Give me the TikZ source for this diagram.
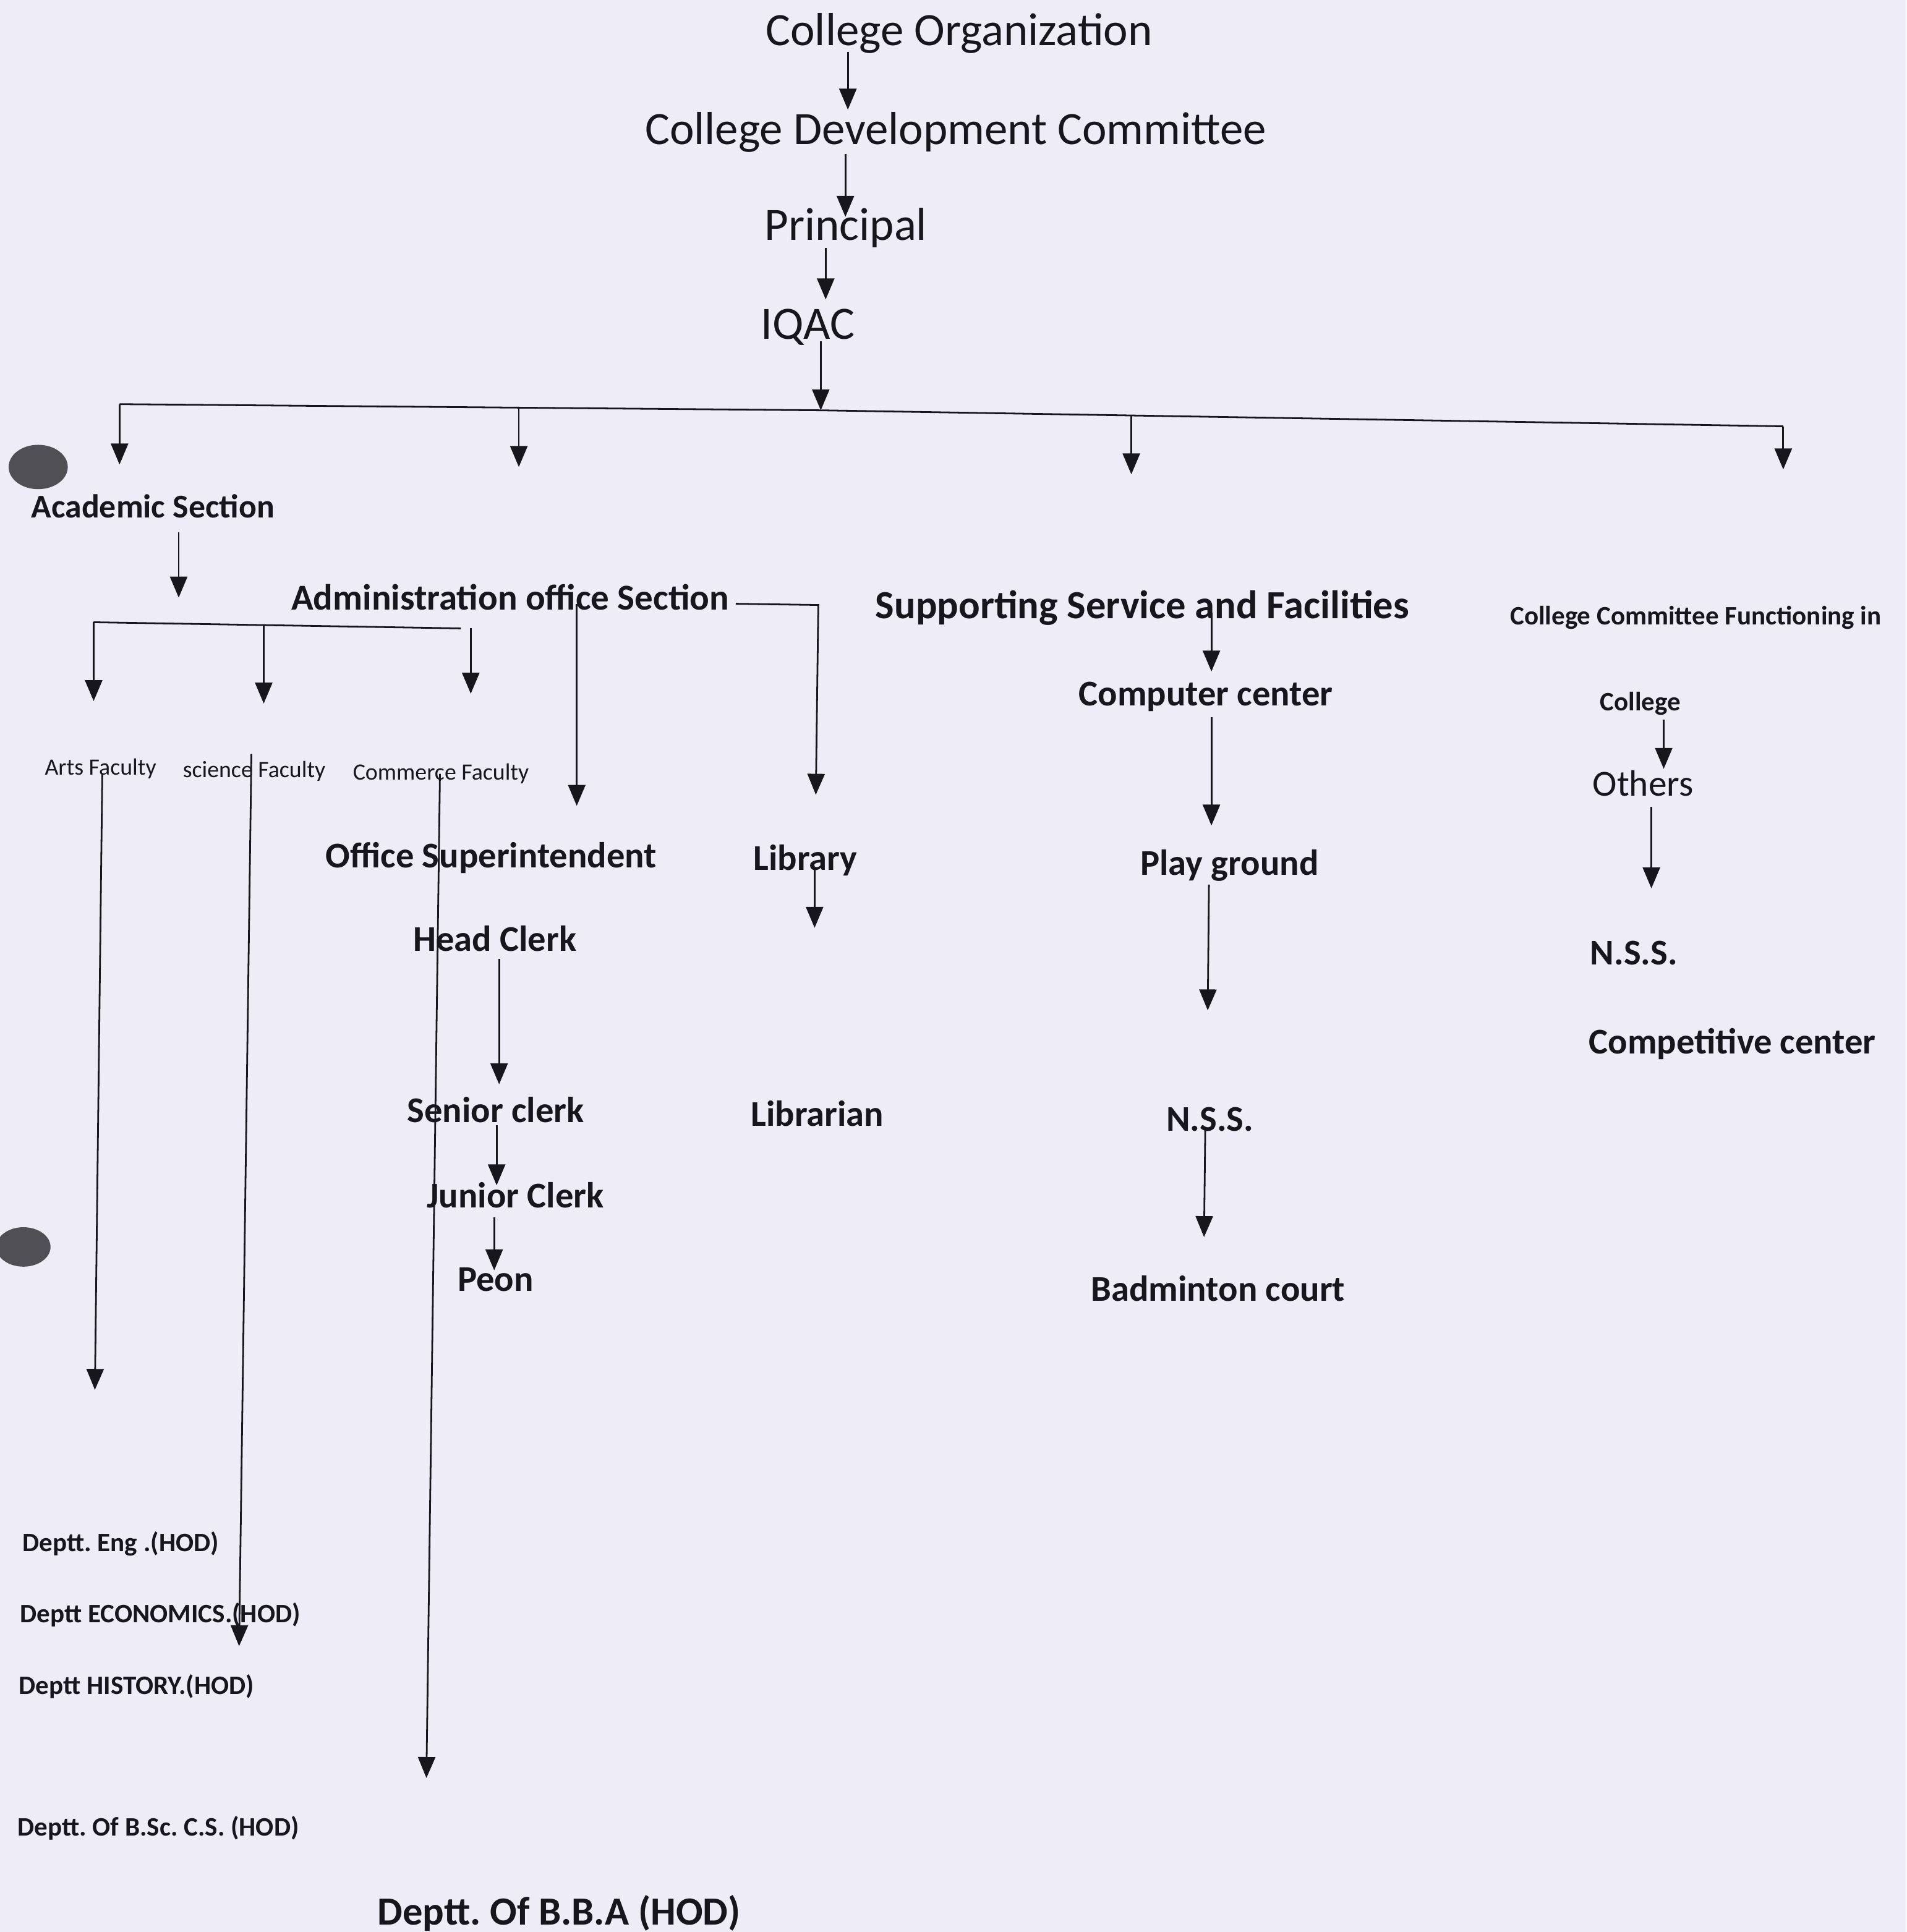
\documentclass[tikz,border=0pt]{standalone}
\usepackage{fontspec}
\setmainfont{Carlito}
\usetikzlibrary{arrows.meta}
\definecolor{paper}{RGB}{238,237,247}
\definecolor{ink}{RGB}{22,22,28}
\definecolor{holec}{RGB}{80,80,84}
\frenchspacing
\begin{document}
\begin{tikzpicture}[x=0.5pt,y=-0.5pt,
  lbl/.style={anchor=base west,inner sep=0pt,text=ink},
  big/.style={lbl,font=\fontsize{18.8}{22}\selectfont},
  bl/.style={lbl,font=\fontsize{14.7}{17}\selectfont\bfseries},
  acadf/.style={lbl,font=\fontsize{13.5}{16}\selectfont\bfseries},
  adminf/.style={lbl,font=\fontsize{14.8}{17}\selectfont\bfseries},
  suppf/.style={lbl,font=\fontsize{16.2}{19}\selectfont\bfseries},
  regm/.style={lbl,font=\fontsize{14.9}{17}\selectfont},
  sm/.style={lbl,font=\fontsize{10.8}{13}\selectfont\bfseries},
  fac/.style={lbl,font=\fontsize{9.5}{11}\selectfont},
  ln/.style={draw=ink,line width=0.7pt},
  arr/.style={ln,-{Triangle[width=7pt,length=8.5pt]}}]
\fill[paper] (0,0) rectangle (1547,1568);
\useasboundingbox (0,0) rectangle (1547,1568);
% punch holes
\fill[holec] (31,379) ellipse [x radius=12pt, y radius=9pt];
\fill[holec] (19,1012) ellipse [x radius=11pt, y radius=8pt];
% labels
\node[big] (corg) at (621,37) {College Organization};
\node[big] (cdc) at (523,117) {College Development Committee};
\node[big] (prin) at (620,195) {Principal};
\node[big] (iqac) at (617,275) {IQAC};
\node[acadf] (acad) at (25,420) {Academic Section};
\node[adminf] (admin) at (236,495) {Administration office Section};
\node[suppf] (supp) at (710,502) {Supporting Service and Facilities};
\node[sm] (ccf) at (1225,507) {College Committee Functioning in};
\node[sm] (coll) at (1298,577) {College};
\node[regm] (others) at (1292,646) {Others};
\node[bl] (nssr) at (1290,783) {N.S.S.};
\node[bl] (compet) at (1289,855) {Competitive center};
\node[bl] (compc) at (875,573) {Computer center};
\node[bl] (play) at (925,710) {Play ground};
\node[bl] (nssm) at (946,918) {N.S.S.};
\node[bl] (badm) at (885,1056) {Badminton court};
\node[bl] (offsup) at (264,704) {Office Superintendent};
\node[bl] (lib) at (611,706) {Library};
\node[bl] (head) at (335,772) {Head Clerk};
\node[bl] (senior) at (330,911) {Senior clerk};
\node[bl] (junior) at (346,980) {Junior Clerk};
\node[bl] (peon) at (371,1048) {Peon};
\node[bl] (libn) at (609,914) {Librarian};
\node[fac] (arts) at (36,629) {Arts Faculty};
\node[fac] (sci) at (148,631) {science Faculty};
\node[fac] (comm) at (286,633) {Commerce Faculty};
\node[sm] (eng) at (18,1259) {Deptt. Eng .(HOD)};
\node[sm] (eco) at (16,1317) {Deptt ECONOMICS.(HOD)};
\node[sm] (his) at (15,1375) {Deptt HISTORY.(HOD)};
\node[sm] (bsc) at (14,1490) {Deptt. Of B.Sc. C.S. (HOD)};
\node[lbl,font=\fontsize{16.2}{19}\selectfont\bfseries] (bba) at (306,1562) {Deptt. Of B.B.A (HOD)};
% coordinates
\coordinate (a1) at (688,42);  \coordinate (a1e) at (688,89);
\coordinate (a2) at (686,125); \coordinate (a2e) at (686,176);
\coordinate (a3) at (670,201); \coordinate (a3e) at (670,243);
\coordinate (a4) at (666,277); \coordinate (busM) at (666,333);
\coordinate (busL) at (97,328); \coordinate (busR) at (1447,346);
\coordinate (b2) at (421,331); \coordinate (b3) at (918,337);
\coordinate (busLe) at (97,377); \coordinate (b2e) at (421,379);
\coordinate (b3e) at (918,385); \coordinate (busRe) at (1447,381);
\coordinate (ac1) at (145,432); \coordinate (ac1e) at (145,485);
\coordinate (abL) at (76,505); \coordinate (abR) at (374,510);
\coordinate (abS) at (214,507);
\coordinate (abLe) at (76,569); \coordinate (abSe) at (214,571);
\coordinate (abC) at (382,510); \coordinate (abCe) at (382,563);
\coordinate (ad1) at (468,490); \coordinate (ad1e) at (468,654);
\coordinate (ad2) at (597,490); \coordinate (ad2c) at (664,491); \coordinate (ad2e) at (662,645);
\coordinate (fa) at (83,628); \coordinate (fae) at (77,1128);
\coordinate (fs) at (204,612); \coordinate (fse) at (194,1336);
\coordinate (fc) at (357,628); \coordinate (fce) at (346,1443);
\coordinate (l1) at (661,706); \coordinate (l1e) at (661,753);
\coordinate (h1) at (405,778); \coordinate (h1e) at (405,880);
\coordinate (s1) at (403,913); \coordinate (s1e) at (403,962);
\coordinate (j1) at (401,988); \coordinate (j1e) at (401,1031);
\coordinate (sp1) at (983,497); \coordinate (sp1e) at (983,545);
\coordinate (cc1) at (983,582); \coordinate (cc1e) at (983,670);
\coordinate (pg1) at (981,718); \coordinate (pg1e) at (980,820);
\coordinate (ns1) at (978,916); \coordinate (ns1e) at (977,1004);
\coordinate (co1) at (1350,584); \coordinate (co1e) at (1350,624);
\coordinate (ot1) at (1340,655); \coordinate (ot1e) at (1340,721);
% connectors
\draw[arr] (a1) -- (a1e);
\draw[arr] (a2) -- (a2e);
\draw[arr] (a3) -- (a3e);
\draw[arr] (a4) -- (busM);
\draw[ln] (busL) -- (busM) -- (busR);
\draw[arr] (busL) -- (busLe);
\draw[arr] (b2) -- (b2e);
\draw[arr] (b3) -- (b3e);
\draw[arr] (busR) -- (busRe);
\draw[arr] (ac1) -- (ac1e);
\draw[ln] (abL) -- (abR);
\draw[arr] (abL) -- (abLe);
\draw[arr] (abS) -- (abSe);
\draw[arr] (abC) -- (abCe);
\draw[arr] (ad1) -- (ad1e);
\draw[arr] (ad2) -- (ad2c) -- (ad2e);
\draw[arr] (fa) -- (fae);
\draw[arr] (fs) -- (fse);
\draw[arr] (fc) -- (fce);
\draw[arr] (l1) -- (l1e);
\draw[arr] (h1) -- (h1e);
\draw[arr] (s1) -- (s1e);
\draw[arr] (j1) -- (j1e);
\draw[arr] (sp1) -- (sp1e);
\draw[arr] (cc1) -- (cc1e);
\draw[arr] (pg1) -- (pg1e);
\draw[arr] (ns1) -- (ns1e);
\draw[arr] (co1) -- (co1e);
\draw[arr] (ot1) -- (ot1e);
\end{tikzpicture}
\end{document}
